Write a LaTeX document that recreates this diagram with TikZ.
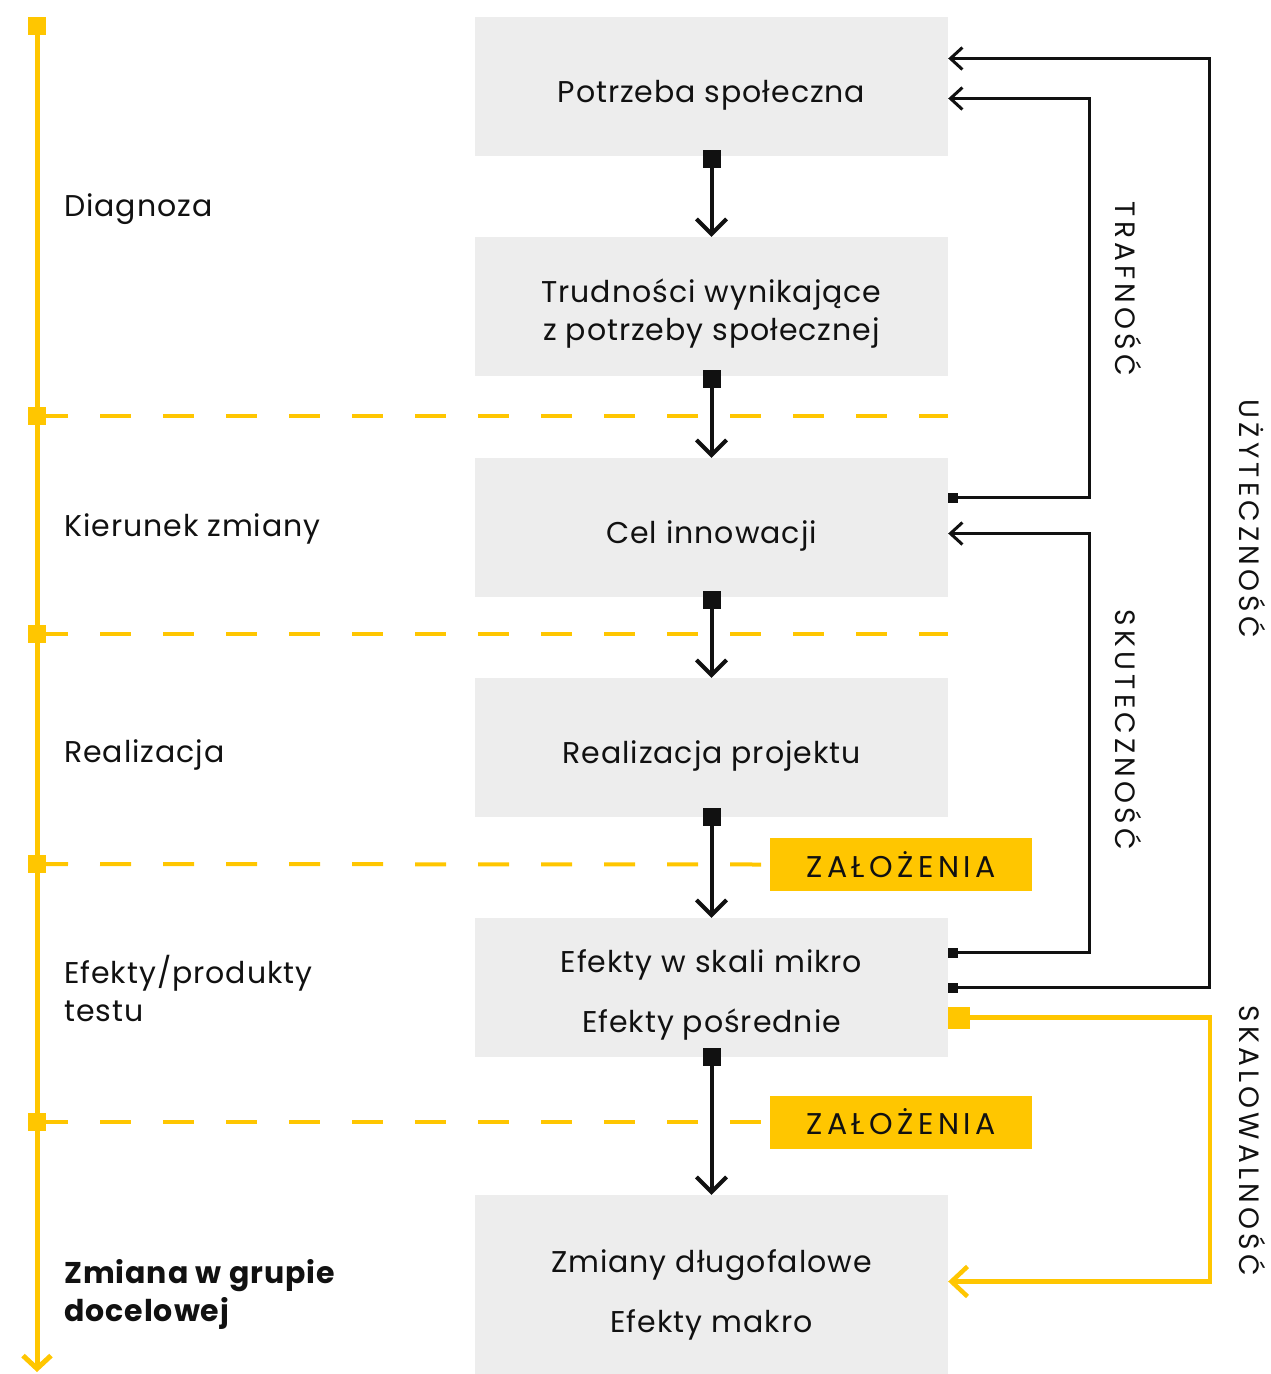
\documentclass[tikz,border=0pt]{standalone}
\usepackage{fontspec}
\setmainfont{Poppins}[LetterSpace=3.2]
\newfontfamily\capsfont{Poppins}[LetterSpace=15]
\usetikzlibrary{arrows.meta,calc,positioning}
\definecolor{innoYellow}{HTML}{FFC600}
\definecolor{innoGrey}{HTML}{EDEDED}
\definecolor{innoInk}{HTML}{111111}

\begin{document}
\begin{tikzpicture}[x=1pt,y=-1pt, every node/.style={font=\fontsize{30}{38}\selectfont, text=innoInk},
  box/.style={fill=innoGrey, minimum width=473pt, minimum height=139pt, align=center, inner sep=0pt,
    execute at begin node={\rule{0pt}{#1}}},
  box/.default=39pt,
  stage/.style={anchor=west, align=left, inner sep=0pt},
  note/.style={fill=innoYellow, minimum width=262pt, minimum height=53pt, inner sep=0pt,
    font=\fontsize{30}{34}\capsfont},
  sidelabel/.style={rotate=-90, inner sep=0pt, font=\fontsize{28}{30}\capsfont},
  flow/.style={line width=4pt, innoInk, {Square[length=18pt,width=18pt]}-{Straight Barb[length=15pt,width=30pt]}},
  feedback/.style={line width=3pt, innoInk, {Square[length=10pt,width=10pt]}-{Straight Barb[length=12pt,width=22pt]}},
  phase/.style={line width=4pt, innoYellow, dash pattern=on 31pt off 32pt}]
      \useasboundingbox (0,0) rectangle (1271,1374);
      % boxes
      \node[box] (potrzeba) at (711.5,86.5) {Potrzeba społeczna};
      \node[box=76pt] (trudnosci) at (711.5,306.5) {Trudności wynikające\\z potrzeby społecznej};
      \node[box] (cel) at (711.5,527.5) {Cel innowacji};
      \node[box] (realizacja) at (711.5,747.5) {Realizacja projektu};
      \node[box=98pt] (efekty) at (711.5,987.5) {Efekty w skali mikro\\[22pt]Efekty pośrednie};
      \node[box=104pt, minimum height=179pt] (zmiany) at (711.5,1284.5) {Zmiany długofalowe\\[22pt]Efekty makro};
      \node[note] (zalozenia1) at (901,864.5) {ZAŁOŻENIA};
      \node[note] (zalozenia2) at (901,1122) {ZAŁOŻENIA};
      % timeline
      \coordinate (start) at (37,17);
      \coordinate (finish) at (37,1372);
      \draw[phase] (37,416) -- (948,416);
      \draw[phase] (37,634) -- (948,634);
      \draw[phase] (37,864) -- (zalozenia1.west);
      \draw[phase] (37,1122) -- (zalozenia2.west);
      \draw[line width=5pt, innoYellow, {Square[length=18pt,width=18pt]}-{Straight Barb[length=13pt,width=28pt]}] (start) -- (finish);
      \foreach \y in {416,634,864,1122}
        \fill[innoYellow] (28,\y-9) rectangle ++(18,18);
      \node[stage] (diagnoza) at (64,209) {Diagnoza};
      \node[stage] (kierunek) at (64,529) {Kierunek zmiany};
      \node[stage] (etapRealizacja) at (64,755) {Realizacja};
      \node[stage] (etapEfekty) at (64,988) {Efekty/produkty\\testu};
      \node[stage, font=\fontsize{30}{38}\selectfont\bfseries] (etapZmiana) at (64,1294) {Zmiana w grupie\\docelowej};
      % main flow
      \draw[flow] ([yshift=6pt]potrzeba.south) -- (trudnosci.north);
      \draw[flow] ([yshift=6pt]trudnosci.south) -- (cel.north);
      \draw[flow] ([yshift=6pt]cel.south) -- (realizacja.north);
      \draw[flow] ([yshift=9pt]realizacja.south) -- (efekty.north);
      \draw[flow] ([yshift=9pt]efekty.south) -- (zmiany.north);
      % feedback loops
      \draw[feedback] ([yshift=30pt]cel.east) -- ++(141,0) |- ([yshift=-12pt]potrzeba.east);
      \draw[feedback] ([yshift=35pt]efekty.east) -- ++(141,0) |- ([yshift=-6pt]cel.east);
      \draw[feedback] (efekty.east) -- ++(261,0) |- ([yshift=28pt]potrzeba.east);
      \draw[line width=4.5pt, innoYellow, {Square[length=22pt,width=22pt]}-{Straight Barb[length=16pt,width=30pt]}]
        ([yshift=-30pt]efekty.east) -- ++(262,0) |- ([yshift=3pt]zmiany.east);
      \node[sidelabel] (trafnosc) at (1128,289) {TRAFNOŚĆ};
      \node[sidelabel] (skutecznosc) at (1128,730) {SKUTECZNOŚĆ};
      \node[sidelabel] (uzytecznosc) at (1252,519) {UŻYTECZNOŚĆ};
      \node[sidelabel] (skalowalnosc) at (1252,1141) {SKALOWALNOŚĆ};
    \end{tikzpicture}
\end{document}
